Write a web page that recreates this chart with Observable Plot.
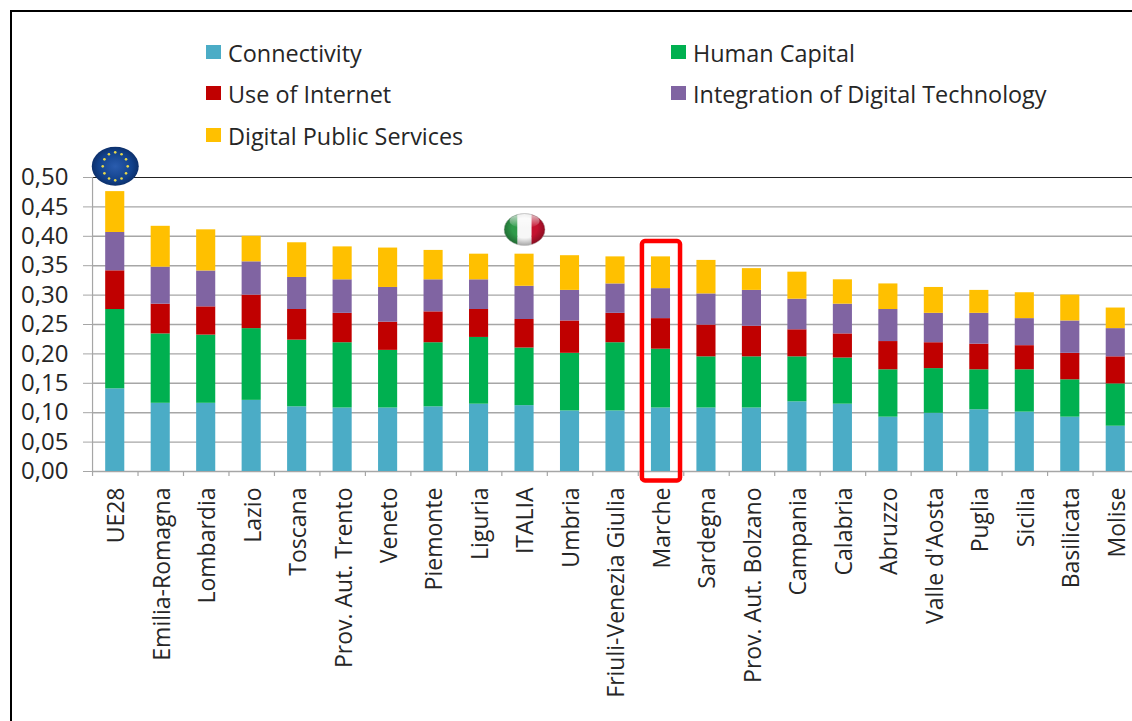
<!DOCTYPE html>
<html><head><meta charset="utf-8">
<script src="https://cdn.jsdelivr.net/npm/d3@7"></script>
<script src="https://cdn.jsdelivr.net/npm/@observablehq/plot@0.6"></script>
<style>
html,body{margin:0;padding:0;background:#fff;width:1132px;height:721px;overflow:hidden}
#wrap{position:relative;width:1132px;height:721px}
#frame{position:absolute;left:9.5px;top:9.5px;width:1200px;height:800px;border:2.5px solid #000;box-sizing:border-box}
.lg{position:absolute;font-family:"Open Sans",sans-serif;font-size:23.4px;line-height:28px;color:#262626;white-space:nowrap}
.lg i{position:absolute;left:-22px;top:6px;width:14.5px;height:14.5px}
svg{position:absolute;left:0;top:0}
</style></head><body>
<div id="wrap"><div id="frame"></div></div>
<script>
const categories=["UE28","Emilia-Romagna","Lombardia","Lazio","Toscana","Prov. Aut. Trento","Veneto","Piemonte","Liguria","ITALIA","Umbria","Friuli-Venezia Giulia","Marche","Sardegna","Prov. Aut. Bolzano","Campania","Calabria","Abruzzo","Valle d'Aosta","Puglia","Sicilia","Basilicata","Molise"];
const seriesNames=["Connectivity","Human Capital","Use of Internet","Integration of Digital Technology","Digital Public Services"];
const seriesColors=["#4bacc6","#00b050","#c00000","#8064a2","#ffc000"];
const connectivity=[.1406,.116,.116,.121,.110,.108,.108,.110,.1145,.112,.103,.103,.108,.108,.108,.1185,.1145,.0924,.099,.105,.101,.0924,.077];
const humanCapital=[.1349,.118,.116,.122,.1134,.111,.098,.109,.1135,.098,.098,.116,.100,.087,.087,.0765,.0785,.0806,.076,.068,.072,.0636,.072];
const useOfInternet=[.0658,.0506,.048,.057,.0521,.050,.048,.0525,.0475,.0485,.055,.050,.052,.054,.052,.046,.041,.048,.044,.0436,.041,.045,.046];
const integration=[.0652,.0629,.061,.0566,.0545,.057,.059,.0545,.0505,.0565,.052,.050,.051,.053,.061,.052,.0506,.0545,.050,.0524,.046,.055,.048];
const digitalPublic=[.0695,.0695,.070,.0434,.059,.056,.067,.050,.0436,.0546,.059,.046,.054,.057,.037,.046,.0414,.0435,.044,.039,.044,.044,.035];
const seriesValues=[connectivity,humanCapital,useOfInternet,integration,digitalPublic];
const yTicks=[0,.05,.1,.15,.2,.25,.3,.35,.4,.45,.5];
const highlight="Marche";
const rows=seriesNames.flatMap((s,j)=>categories.map((c,i)=>({category:c,series:s,value:seriesValues[j][i]})));

const stars=d3.range(12).map(i=>{const a=i*Math.PI/6;return `<circle cx='${(24+12.5*Math.cos(a)).toFixed(1)}' cy='${(20+14*Math.sin(a)).toFixed(1)}' r='1.3' fill='#e8d94a'/>`}).join("");
const euFlag="data:image/svg+xml,"+encodeURIComponent(`<svg xmlns='http://www.w3.org/2000/svg' width='48' height='40' viewBox='0 0 48 40'><defs><radialGradient id='g' cx='50%' cy='50%' r='55%'><stop offset='0' stop-color='#2a5cae'/><stop offset='.65' stop-color='#12428c'/><stop offset='1' stop-color='#0b2a60'/></radialGradient></defs><ellipse cx='24' cy='20' rx='23.5' ry='19.5' fill='url(#g)'/>${stars}</svg>`);
const itFlag="data:image/svg+xml,"+encodeURIComponent(`<svg xmlns='http://www.w3.org/2000/svg' width='42' height='33' viewBox='0 0 42 33'><defs><clipPath id='c'><ellipse cx='21' cy='16.5' rx='20.5' ry='16'/></clipPath><radialGradient id='s' cx='50%' cy='45%' r='55%'><stop offset='.55' stop-color='#000' stop-opacity='0'/><stop offset='1' stop-color='#000' stop-opacity='.35'/></radialGradient><linearGradient id='h' x1='0' y1='0' x2='0' y2='1'><stop offset='0' stop-color='#fff' stop-opacity='.75'/><stop offset='1' stop-color='#fff' stop-opacity='0'/></linearGradient></defs><g clip-path='url(#c)'><rect x='0' y='0' width='14' height='33' fill='#2f9a4a'/><rect x='14' y='0' width='14' height='33' fill='#f7f7f7'/><rect x='28' y='0' width='14' height='33' fill='#c4122f'/><rect width='42' height='33' fill='url(#s)'/><ellipse cx='21' cy='8' rx='15' ry='7' fill='url(#h)'/></g><ellipse cx='21' cy='16.5' rx='20.5' ry='16' fill='none' stroke='#bbb' stroke-width='.6'/></svg>`);
const flags=[{category:"UE28",level:.519,src:euFlag,w:48,h:40},{category:"ITALIA",level:.4115,src:itFlag,w:42,h:33}];

const fontFamily='"Open Sans",sans-serif';
const grey="#a6a6a6";
const chart=Plot.plot({
  width:1132,height:721,marginTop:177,marginBottom:250,marginLeft:92,marginRight:0,
  style:{background:"transparent",fontFamily,overflow:"hidden"},
  x:{domain:categories,range:[92,1138],paddingInner:.58,paddingOuter:.29,round:false,label:null},
  y:{domain:[0,.5],label:null},
  color:{domain:seriesNames,range:seriesColors},
  marks:[
    Plot.ruleY(yTicks.slice(0,-1),{stroke:grey,strokeWidth:1.4}),
    Plot.ruleY([.5],{stroke:"#222",strokeWidth:1.2}),
    Plot.ruleX(categories,{dx:-22.7,y1:0,y2:-.0085,stroke:grey,strokeWidth:1.2}),
    Plot.ruleX(categories.slice(0,1),{dx:-22.7,y1:0,y2:.5,stroke:grey,strokeWidth:1.2}),
    Plot.barY(rows,{x:"category",y:"value",fill:"series",order:seriesNames}),
    Plot.barY([highlight],{x:d=>d,y1:()=>-.016,y2:()=>.391,fill:"none",stroke:"#ff0000",strokeWidth:4.5,rx:3,insetLeft:-9,insetRight:-10}),
    Plot.image(flags,{x:"category",y:"level",src:"src",width:"w",height:"h"}),
    Plot.axisY({ticks:yTicks,tickFormat:d=>d3.format(".2f")(d).replace(".",","),tickSize:9,tickPadding:15,fontSize:24,stroke:grey,fill:"#262626",label:null}),
    Plot.axisX({tickRotate:-90,tickSize:0,tickPadding:16,fontSize:23,dx:1.5,fill:"#262626",label:null})
  ]
});
const wrap=document.getElementById("wrap");
wrap.prepend(chart);
const legendLayout=[[228,38.5],[693,38.5],[228,79.5],[693,79.5],[228,121.5]];
seriesNames.forEach((name,k)=>{
  const d=document.createElement("div");d.className="lg";
  d.style.left=legendLayout[k][0]+"px";d.style.top=legendLayout[k][1]+"px";
  d.textContent=name;
  const sw=document.createElement("i");sw.style.background=seriesColors[k];d.prepend(sw);
  wrap.appendChild(d);
});
</script></body></html>
